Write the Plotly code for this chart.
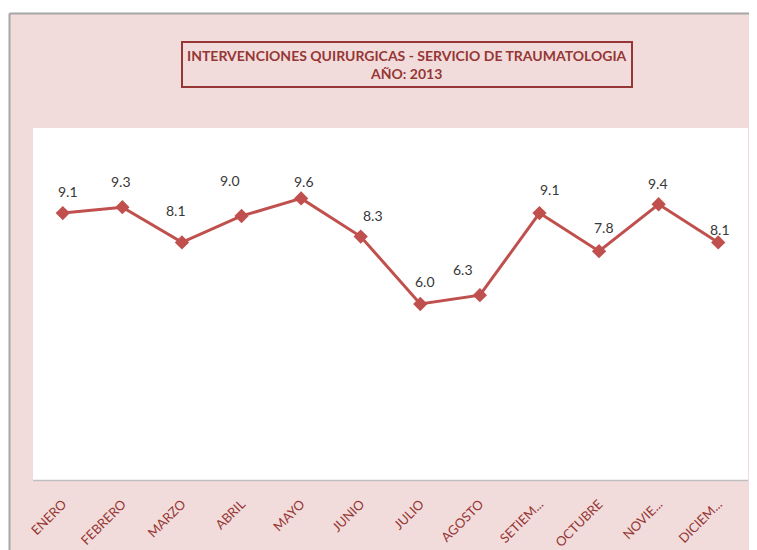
import plotly.graph_objects as go

months = ["ENERO", "FEBRERO", "MARZO", "ABRIL", "MAYO", "JUNIO", "JULIO",
          "AGOSTO", "SETIEM...", "OCTUBRE", "NOVIE...", "DICIEM..."]
values = [9.1, 9.3, 8.1, 9.0, 9.6, 8.3, 6.0, 6.3, 9.1, 7.8, 9.4, 8.1]
title_lines = ["INTERVENCIONES QUIRURGICAS - SERVICIO DE TRAUMATOLOGIA", "AÑO: 2013"]

# label offsets (pixels) to mimic the manually placed data labels
label_dx = [5, -1, -6, -12, 3, 12, 5, -17, 11, 5, -1, 2]
label_dy = [22, 26, 32, 36, 17, 21, 23, 26, 24, 24, 21, 13]

OFF = 8  # page body margin
W, H = 757 - OFF, 550 - OFF
ML, MR, MT, MB = 33 - OFF, 757 - 748, 128 - OFF, 550 - 480
PW, PH = W - ML - MR, H - MT - MB

def px_x(p):  # screen px -> paper x
    return (p - OFF - ML) / PW

def px_y(p):  # screen px -> paper y
    return 1 - (p - OFF - MT) / PH

PINK = "#F2DCDB"
DARKRED = "#953735"
LINE = "#C0504D"
FONT = "Lato, Carlito, sans-serif"

fig = go.Figure()
fig.add_trace(go.Scatter(
    x=months, y=values, mode="lines+markers",
    line=dict(color=LINE, width=3),
    marker=dict(symbol="diamond", size=11, color=LINE),
    hoverinfo="x+y", showlegend=False,
))

for m, v, dx, dy in zip(months, values, label_dx, label_dy):
    fig.add_annotation(x=m, y=v, text=f"{v:.1f}", showarrow=False,
                       xshift=dx, yshift=dy,
                       font=dict(family=FONT, size=14, color="#383838"))

fig.add_annotation(
    xref="paper", yref="paper", x=px_x(406.5), y=px_y(64.5),
    xanchor="center", yanchor="middle",
    text="<b>" + "<br>".join(title_lines) + "</b>",
    showarrow=False, align="center",
    font=dict(family=FONT, size=14, color=DARKRED),
    bordercolor=DARKRED, borderwidth=2, borderpad=4, bgcolor=PINK,
)

shapes = [
    # white outside strips
    dict(type="rect", xref="paper", yref="paper", x0=px_x(-5), x1=px_x(770),
         y0=px_y(13), y1=px_y(-5), fillcolor="white", line=dict(width=0), layer="above"),
    dict(type="rect", xref="paper", yref="paper", x0=px_x(-5), x1=px_x(9),
         y0=px_y(560), y1=px_y(-5), fillcolor="white", line=dict(width=0), layer="above"),
    # frame border lines
    dict(type="line", xref="paper", yref="paper", x0=px_x(9.5), x1=px_x(770),
         y0=px_y(13.5), y1=px_y(13.5), line=dict(color="#A6A6A6", width=2), layer="above"),
    dict(type="line", xref="paper", yref="paper", x0=px_x(9.5), x1=px_x(9.5),
         y0=px_y(13.5), y1=px_y(560), line=dict(color="#A6A6A6", width=2), layer="above"),
    # subtle shadow at plot bottom
    dict(type="line", xref="paper", yref="paper", x0=0, x1=1, y0=px_y(480.5), y1=px_y(480.5),
         line=dict(color="#BFBFBF", width=1.5), layer="above"),
]
fig.update_layout(shapes=shapes)

fig.update_layout(
    width=W, height=H,
    margin=dict(l=ML, r=MR, t=MT, b=MB),
    paper_bgcolor=PINK, plot_bgcolor="white",
    xaxis=dict(type="category", range=[-0.5, 11.5], showgrid=False, zeroline=False,
               showline=False, ticks="", tickangle=-45, ticklabelstandoff=13,
               automargin=False,
               tickfont=dict(family=FONT, size=13, color=DARKRED)),
    yaxis=dict(range=[0, 12], showgrid=False, zeroline=False, showline=False,
               showticklabels=False, ticks="", automargin=False),
)

fig.write_html("out.html")
